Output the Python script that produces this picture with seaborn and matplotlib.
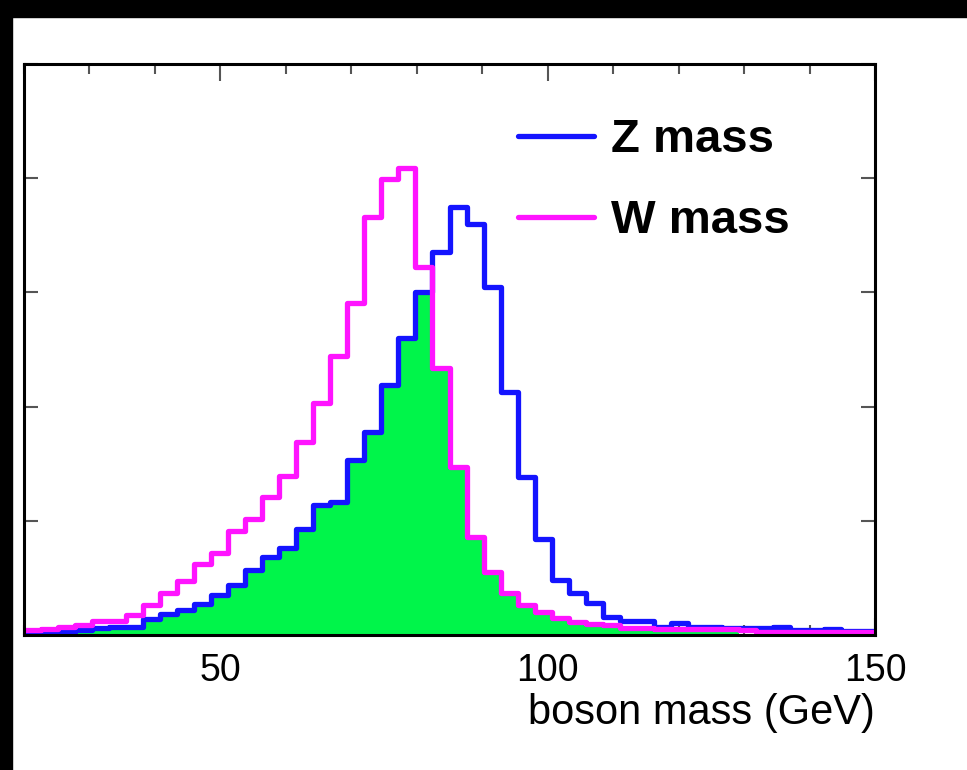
import numpy as np
import pandas as pd
import matplotlib
matplotlib.use("Agg")
import matplotlib.pyplot as plt
from matplotlib.lines import Line2D
from matplotlib.patches import Rectangle
from matplotlib.ticker import MultipleLocator, NullFormatter
import seaborn as sns

# ---------------- data ----------------
x_min, x_max, n_bins = 20.0, 150.0, 50

z_mass = [0.02, 0.02, 0.03, 0.044, 0.064, 0.073, 0.073, 0.137, 0.18, 0.219,
          0.268, 0.35, 0.44, 0.57, 0.68, 0.76, 0.925, 1.14, 1.167, 1.53,
          1.78, 2.19, 2.60, 3.00, 3.35, 3.75, 3.60, 3.05, 2.13, 1.38,
          0.84, 0.48, 0.37, 0.277, 0.16, 0.125, 0.125, 0.07, 0.105, 0.073,
          0.073, 0.061, 0.061, 0.061, 0.073, 0.044, 0.044, 0.05, 0.035, 0.035]

w_mass = [0.04, 0.05, 0.073, 0.09, 0.125, 0.125, 0.175, 0.263, 0.37, 0.473,
          0.62, 0.72, 0.91, 1.02, 1.21, 1.39, 1.69, 2.03, 2.44, 2.91,
          3.66, 3.99, 4.09, 3.22, 2.34, 1.47, 0.86, 0.554, 0.37, 0.263,
          0.20, 0.146, 0.118, 0.10, 0.088, 0.061, 0.064, 0.05, 0.05, 0.05,
          0.05, 0.05, 0.04, 0.03, 0.03, 0.03, 0.03, 0.03, 0.03, 0.03]

overlap = [0.02, 0.02, 0.03, 0.044, 0.064, 0.073, 0.073, 0.137, 0.18, 0.219,
           0.268, 0.35, 0.44, 0.57, 0.68, 0.76, 0.925, 1.14, 1.167, 1.53,
           1.78, 2.19, 2.60, 3.00, 2.34, 1.47, 0.86, 0.554, 0.37, 0.263,
           0.20, 0.146, 0.118, 0.10, 0.088, 0.04, 0.04, 0.035, 0.035, 0.035,
           0.035, 0.03, 0.0, 0.0, 0.0, 0.0, 0.0, 0.0, 0.0, 0.0]

series_labels = ["Z mass", "W mass"]
x_ticks = [50, 100, 150]
x_label = "boson mass (GeV)"

# ---------------- style ----------------
sns.set_style("ticks")
plt.rcParams["font.family"] = ["Liberation Sans", "DejaVu Sans"]
plt.rcParams["text.color"] = "black"
plt.rcParams["axes.labelcolor"] = "black"
plt.rcParams["xtick.labelcolor"] = "black"

BLUE = "#1414ff"
MAGENTA = "#ff14ff"
GREEN = "#00f54a"

edges = np.linspace(x_min, x_max, n_bins + 1)
centers = 0.5 * (edges[:-1] + edges[1:])

df = pd.DataFrame({
    "mass": np.tile(centers, 3),
    "count": np.concatenate([overlap, z_mass, w_mass]),
    "series": ["overlap"] * n_bins + ["Z"] * n_bins + ["W"] * n_bins,
})

W_PX, H_PX, DPI = 967, 770, 100
fig = plt.figure(figsize=(W_PX / DPI, H_PX / DPI), dpi=DPI, facecolor="white")
ax = fig.add_axes([24 / W_PX, 1 - 635 / H_PX, (875 - 24) / W_PX, (635 - 64) / H_PX])

# black frame bands (top and left) of the screenshot
fig.patches.append(Rectangle((0, 0), 12 / W_PX, 1, transform=fig.transFigure,
                             color="black", zorder=-5))
fig.patches.append(Rectangle((0, 1 - 17 / H_PX), 1, 17 / H_PX, transform=fig.transFigure,
                             color="black", zorder=-5))

hist_kw = dict(x="mass", weights="count", bins=n_bins, binrange=(x_min, x_max),
               element="step", ax=ax)
sns.histplot(data=df[df.series == "overlap"], fill=True, color=GREEN, alpha=1.0,
             linewidth=0, **hist_kw)
sns.histplot(data=df[df.series == "Z"], fill=False, color=BLUE, linewidth=3.8, **hist_kw)
sns.histplot(data=df[df.series == "W"], fill=False, color=MAGENTA, linewidth=3.8, **hist_kw)

ax.set_xlim(x_min, x_max)
ax.set_ylim(0, 5)
ax.set_ylabel("")
ax.set_xlabel(x_label, fontsize=30, loc="right", labelpad=3, color="black")

ax.set_xticks(x_ticks)
ax.set_xticklabels([str(t) for t in x_ticks])
ax.xaxis.set_minor_locator(MultipleLocator(10))
ax.yaxis.set_major_locator(MultipleLocator(1))
ax.yaxis.set_major_formatter(NullFormatter())

ax.tick_params(axis="x", which="major", direction="in", length=12, width=1.5,
               color="#555555", labelcolor="black", labelsize=27, pad=13,
               top=True, bottom=True)
ax.tick_params(axis="x", which="minor", direction="in", length=7, width=1.5,
               color="#555555", top=True, bottom=True)
ax.tick_params(axis="y", which="major", direction="in", length=10, width=1.5,
               color="#555555", left=True, right=True)

for s in ax.spines.values():
    s.set_visible(True)
    s.set_linewidth(2.2)
    s.set_color("black")
    s.set_zorder(5)

handles = [Line2D([], [], color=BLUE, lw=3.8), Line2D([], [], color=MAGENTA, lw=3.8)]
leg = ax.legend(handles, series_labels, loc="upper left", bbox_to_anchor=(0.5805, 0.905),
                frameon=False,
                prop={"family": "Liberation Sans", "weight": "bold", "size": 34},
                handlelength=1.6, handletextpad=0.36, labelspacing=0.78, borderpad=0,
                borderaxespad=0)
for t in leg.get_texts():
    t.set_color("black")

fig.savefig("out.png", dpi=DPI, facecolor=fig.get_facecolor())
